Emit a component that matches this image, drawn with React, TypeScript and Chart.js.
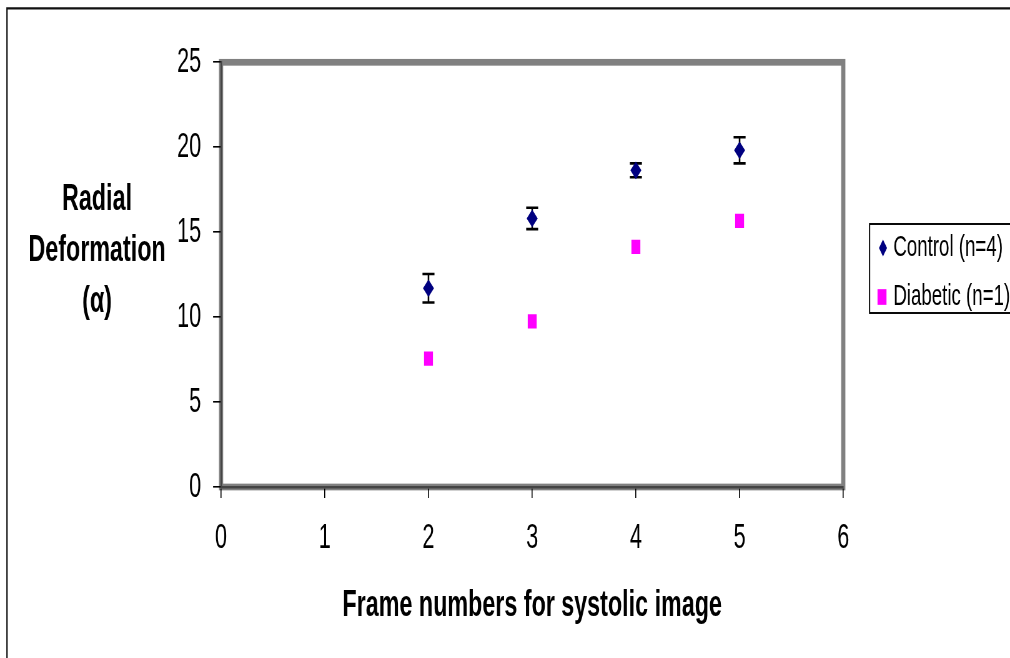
import { useEffect, useRef } from 'react';
import { Chart, registerables } from 'chart.js';

Chart.register(...registerables);

// ---- data ----
const frames = [2, 3, 4, 5];
const controlValues = [11.7, 15.81, 18.64, 19.82];
const controlErrors = [0.84, 0.63, 0.41, 0.77];
const diabeticValues = [7.55, 9.75, 14.14, 15.67];
const xTickValues = [0, 1, 2, 3, 4, 5, 6];
const yTickValues = [0, 5, 10, 15, 20, 25];
const seriesLabels = ['Control (n=4)', 'Diabetic (n=1)'];
const xTitle = 'Frame numbers for systolic image';
const yTitleLines = ['Radial', 'Deformation', '(α)'];

const SY = 1.6015; // vertical stretch of the picture
const FONT = '"Liberation Sans", Arial, sans-serif';
const NAVY = '#000080';
const MAGENTA = '#FF00FF';

const decorPlugin = {
  id: 'decor',
  beforeDraw(chart: any) {
    const { ctx, chartArea: a } = chart;
    ctx.save();
    // outer chart border (top + left)
    ctx.strokeStyle = '#111';
    ctx.lineWidth = 1.4;
    ctx.beginPath();
    ctx.moveTo(7, 420);
    ctx.lineTo(7, 8.3 / SY);
    ctx.lineTo(1020, 8.3 / SY);
    ctx.stroke();
    // plot area frame
    ctx.strokeStyle = '#808080';
    ctx.lineWidth = 4.2;
    ctx.strokeRect(a.left, a.top, a.right - a.left, a.bottom - a.top);
    ctx.restore();
  },
  beforeDatasetsDraw(chart: any) {
    const { ctx, scales } = chart;
    const xs = scales.x;
    const ys = scales.y;
    ctx.save();
    ctx.strokeStyle = '#000';
    ctx.lineWidth = 1.6;
    frames.forEach((f, i) => {
      const px = xs.getPixelForValue(f);
      const top = ys.getPixelForValue(controlValues[i] + controlErrors[i]);
      const bot = ys.getPixelForValue(controlValues[i] - controlErrors[i]);
      ctx.beginPath();
      ctx.moveTo(px, top);
      ctx.lineTo(px, bot);
      ctx.moveTo(px - 6, top);
      ctx.lineTo(px + 6, top);
      ctx.moveTo(px - 6, bot);
      ctx.lineTo(px + 6, bot);
      ctx.stroke();
    });
    ctx.restore();
  },
  afterDraw(chart: any) {
    const { ctx } = chart;
    ctx.save();
    // axis titles
    ctx.fillStyle = '#000';
    ctx.font = `bold 23.3px ${FONT}`;
    ctx.textAlign = 'center';
    ctx.textBaseline = 'middle';
    ctx.fillText(xTitle, 532, 606 / SY);
    const yCenters = [200, 251, 302];
    yTitleLines.forEach((t, i) => ctx.fillText(t, 97, yCenters[i] / SY));

    // legend
    const lx = 869.3;
    const ly = 224 / SY;
    const lb = 313 / SY;
    ctx.fillStyle = '#fff';
    ctx.fillRect(lx, ly, 160, lb - ly);
    ctx.strokeStyle = '#000';
    ctx.lineWidth = 1.2;
    ctx.strokeRect(lx, ly, 160, lb - ly);

    const r1 = 248 / SY;
    const r2 = 297 / SY;
    // diamond
    ctx.fillStyle = NAVY;
    ctx.beginPath();
    ctx.moveTo(882.7, r1 - 5.3);
    ctx.lineTo(886.7, r1);
    ctx.lineTo(882.7, r1 + 5.3);
    ctx.lineTo(878.7, r1);
    ctx.closePath();
    ctx.fill();
    // square
    ctx.fillStyle = MAGENTA;
    ctx.fillRect(881.7 - 4.5, r2 - 4.9, 9, 9.8);

    ctx.fillStyle = '#000';
    ctx.font = `18.7px ${FONT}`;
    ctx.textAlign = 'left';
    ctx.fillText(seriesLabels[0], 893, r1);
    ctx.fillText(seriesLabels[1], 893, r2);
    ctx.restore();
  },
};

export default function App() {
  const ref = useRef<HTMLCanvasElement>(null);

  useEffect(() => {
    document.body.style.margin = '0';
    const canvas = ref.current!;
    const chart = new Chart(canvas, {
      type: 'scatter',
      data: {
        datasets: [
          {
            label: seriesLabels[0],
            data: frames.map((f, i) => ({ x: f, y: controlValues[i] })),
            pointStyle: 'rectRot',
            pointRadius: 5.5,
            backgroundColor: NAVY,
            borderColor: NAVY,
            borderWidth: 0,
          },
          {
            label: seriesLabels[1],
            data: frames.map((f, i) => ({ x: f, y: diabeticValues[i] })),
            pointStyle: 'rect',
            pointRadius: 6.3,
            backgroundColor: MAGENTA,
            borderColor: MAGENTA,
            borderWidth: 0,
          },
        ],
      },
      options: {
        responsive: false,
        devicePixelRatio: SY,
        animation: false,
        layout: { padding: { left: 0, top: 62.3 / SY, right: 1010 - 843, bottom: 0 } },
        plugins: { legend: { display: false }, tooltip: { enabled: false } },
        scales: {
          x: {
            type: 'linear',
            min: 0,
            max: 6,
            afterBuildTicks: (s: any) => {
              s.ticks = xTickValues.map((v) => ({ value: v }));
            },
            afterFit: (s: any) => {
              s.height = 411 - 487 / SY;
            },
            ticks: {
              color: '#000',
              font: { family: FONT, size: 21.6 },
              padding: 12,
              maxRotation: 0,
            },
            grid: {
              display: true,
              drawOnChartArea: false,
              drawTicks: true,
              tickLength: 6.9,
              color: '#000',
              lineWidth: 1,
            },
            border: { display: true, color: '#444', width: 1.6 },
          },
          y: {
            type: 'linear',
            min: 0,
            max: 25,
            afterBuildTicks: (s: any) => {
              s.ticks = yTickValues.map((v) => ({ value: v }));
            },
            afterFit: (s: any) => {
              s.width = 221;
            },
            ticks: {
              color: '#000',
              font: { family: FONT, size: 21.6 },
              padding: 12,
            },
            grid: {
              display: true,
              drawOnChartArea: false,
              drawTicks: true,
              tickLength: 8,
              color: '#000',
              lineWidth: 1,
            },
            border: { display: true, color: '#444', width: 1.6 },
          },
        },
      },
      plugins: [decorPlugin],
    });
    return () => chart.destroy();
  }, []);

  return (
    <canvas
      ref={ref}
      width={1010}
      height={411}
      style={{ display: 'block', width: '1010px', height: '658px' }}
    />
  );
}
